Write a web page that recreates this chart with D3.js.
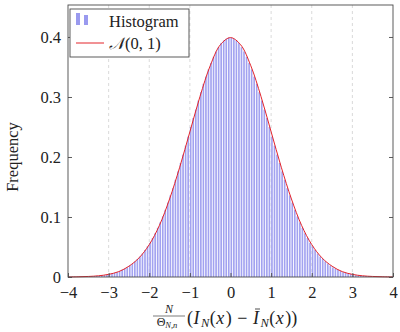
<!DOCTYPE html>
<html>
<head>
<meta charset="utf-8">
<script src="https://cdn.jsdelivr.net/npm/d3@7"></script>
<style>
  body { margin: 0; background: #fff; }
  svg text { font-family: "Liberation Serif", "DejaVu Serif", serif; }
</style>
</head>
<body>
<svg id="chart" width="400" height="332"></svg>
<script>
// histogram: bin width 0.0625 from -4 to 4, heights of the right half (centres 0.03125 .. 3.96875)
const binWidth = 0.0625
const halfHeights = [0.399, 0.397, 0.394, 0.390, 0.383, 0.376, 0.367, 0.357,
  0.346, 0.334, 0.322, 0.308, 0.294, 0.279, 0.265, 0.250,
  0.234, 0.219, 0.204, 0.190, 0.176, 0.162, 0.148, 0.136,
  0.124, 0.112, 0.101, 0.091, 0.082, 0.073, 0.065, 0.057,
  0.051, 0.045, 0.039, 0.034, 0.030, 0.026, 0.022, 0.019,
  0.016, 0.014, 0.012, 0.010, 0.008, 0.007, 0.006, 0.005,
  0.004, 0.003, 0.003, 0.002, 0.002, 0.0015, 0.0012, 0.001,
  0.0008, 0.0006, 0.0005, 0.0004, 0.0003, 0.0003, 0.0002, 0.0002]
// normal density curve, points every 0.25 (right half, x = 0 .. 4)
const curveStep = 0.25
const curveHalf = [0.399, 0.387, 0.352, 0.301, 0.242, 0.183, 0.130, 0.086,
  0.054, 0.032, 0.018, 0.009, 0.0044, 0.002, 0.0009, 0.0004, 0.0001]
const xTicks = [-4, -3, -2, -1, 0, 1, 2, 3, 4]
const yTicks = [0, 0.1, 0.2, 0.3, 0.4]
const gridX = [-3, -2, -1, 1, 2, 3]

// build full arrays
const bins = []
halfHeights.slice().reverse().forEach((h, i) => bins.push({x0: -4 + i * binWidth, h: h}))
halfHeights.forEach((h, i) => bins.push({x0: i * binWidth, h: h}))
const curvePts = []
curveHalf.slice().reverse().forEach((v, i) => curvePts.push([-4 + i * curveStep, v]))
curveHalf.slice(1).forEach((v, i) => curvePts.push([(i + 1) * curveStep, v]))

const plotL = 68, plotR = 393, plotT = 5, plotB = 277
const svg = d3.select("#chart")

const x = d3.scaleLinear().domain([-4, 4]).range([plotL, plotR])
const y = d3.scaleLinear().domain([0, 0.4533]).range([plotB, plotT])

// grid
svg.selectAll(".grid").data(gridX).join("line")
  .attr("x1", d => x(d)).attr("x2", d => x(d))
  .attr("y1", plotT).attr("y2", plotB)
  .attr("stroke", "#d0d0d0").attr("stroke-width", 0.8)
  .attr("stroke-dasharray", "3,3")

// bars
svg.append("g").selectAll("rect").data(bins).join("rect")
  .attr("x", d => x(d.x0))
  .attr("width", x(binWidth) - x(0) - 0.9)
  .attr("y", d => y(d.h))
  .attr("height", d => y(0) - y(d.h))
  .attr("fill", "#a2a2f0")

// curve
svg.append("path")
  .datum(curvePts)
  .attr("d", d3.line().x(d => x(d[0])).y(d => y(d[1])).curve(d3.curveCatmullRom))
  .attr("fill", "none").attr("stroke", "#e3242b").attr("stroke-width", 1)

// axes frame and ticks
svg.append("rect").attr("x", plotL).attr("y", plotT)
  .attr("width", plotR - plotL).attr("height", plotB - plotT)
  .attr("fill", "none").attr("stroke", "#4a4a4a").attr("stroke-width", 0.9)

const axB = svg.append("g").attr("transform", `translate(0,${plotB})`)
  .call(d3.axisBottom(x).tickValues(xTicks).tickSizeInner(-4).tickSizeOuter(0).tickPadding(9)
    .tickFormat(d => d < 0 ? "\u2212" + Math.abs(d) : d))
const axL = svg.append("g").attr("transform", `translate(${plotL},0)`)
  .call(d3.axisLeft(y).tickValues(yTicks).tickSizeInner(-4).tickSizeOuter(0).tickPadding(7)
    .tickFormat(d => d === 0 ? "0" : d3.format(".1f")(d)))
const axR = svg.append("g").attr("transform", `translate(${plotR},0)`)
  .call(d3.axisRight(y).tickValues(yTicks).tickSizeInner(-4).tickSizeOuter(0).tickFormat(""))
;[axB, axL, axR].forEach(a => {
  a.attr("font-family", null)
  a.select(".domain").remove()
  a.selectAll(".tick line").attr("stroke", "#4a4a4a").attr("stroke-width", 0.9)
  a.selectAll("text").attr("font-size", 16.5).attr("fill", "#222")
})

// y label
svg.append("text")
  .attr("transform", "translate(18,157) rotate(-90)")
  .attr("text-anchor", "middle")
  .attr("font-size", 16.5).attr("fill", "#222")
  .text("Frequency")

// legend
const lg = svg.append("g")
lg.append("rect").attr("x", 70).attr("y", 9).attr("width", 119).attr("height", 48)
  .attr("fill", "#fff").attr("stroke", "#4a4a4a").attr("stroke-width", 0.9)
lg.append("rect").attr("x", 76).attr("y", 13).attr("width", 4).attr("height", 12).attr("fill", "#9a9aef")
lg.append("rect").attr("x", 84).attr("y", 15).attr("width", 4).attr("height", 10).attr("fill", "#9a9aef")
lg.append("text").attr("x", 109).attr("y", 27).attr("font-size", 16.5).attr("fill", "#222").text("Histogram")
lg.append("line").attr("x1", 76).attr("x2", 104).attr("y1", 43).attr("y2", 43)
  .attr("stroke", "#e3242b").attr("stroke-width", 1)
lg.append("text").attr("x", 109).attr("y", 49).attr("font-size", 16.5).attr("fill", "#222")
  .html('<tspan font-style="italic">\uD835\uDCA9</tspan>(0, 1)')

// x label: N/Θ_{N,n} (I_N(x) − Ī_N(x))
const xl = svg.append("g").attr("fill", "#222")
const fracL = 153, fracR = 185, fracC = (fracL + fracR) / 2
xl.append("text").attr("x", fracC).attr("y", 313).attr("text-anchor", "middle")
  .attr("font-size", 12).attr("font-style", "italic").text("N")
xl.append("line").attr("x1", fracL).attr("x2", fracR).attr("y1", 316).attr("y2", 316)
  .attr("stroke", "#222").attr("stroke-width", 0.6)
xl.append("text").attr("x", fracC - 2).attr("y", 326).attr("text-anchor", "middle")
  .attr("font-size", 12)
  .html('\u0398<tspan font-size="8.5" font-style="italic" dy="2">N,n</tspan>')

const pieces = [
  {t: "(", s: 18}, {t: "I", s: 18, it: true}, {t: "N", s: 12.5, it: true, sub: true},
  {t: "(", s: 18}, {t: "x", s: 18, it: true}, {t: ")", s: 18, sp: 5}, {t: "\u2212", s: 18, sp: 5},
  {t: "I", s: 18, it: true, bar: true}, {t: "N", s: 12.5, it: true, sub: true},
  {t: "(", s: 18}, {t: "x", s: 18, it: true}, {t: "))", s: 18}
]
let cx = 187
pieces.forEach(p => {
  const t = xl.append("text").attr("x", cx).attr("y", p.sub ? 327 : 324)
    .attr("font-size", p.s).attr("font-style", p.it ? "italic" : null)
    .text(p.t)
  const w = t.node().getComputedTextLength()
  if (p.bar) {
    xl.append("line").attr("x1", cx + 2).attr("x2", cx + w + 1)
      .attr("y1", 309).attr("y2", 309).attr("stroke", "#222").attr("stroke-width", 0.8)
  }
  cx += w + (p.it && !p.sub ? 1.5 : 0.5) + (p.sp || 0)
})
</script>
</body>
</html>
